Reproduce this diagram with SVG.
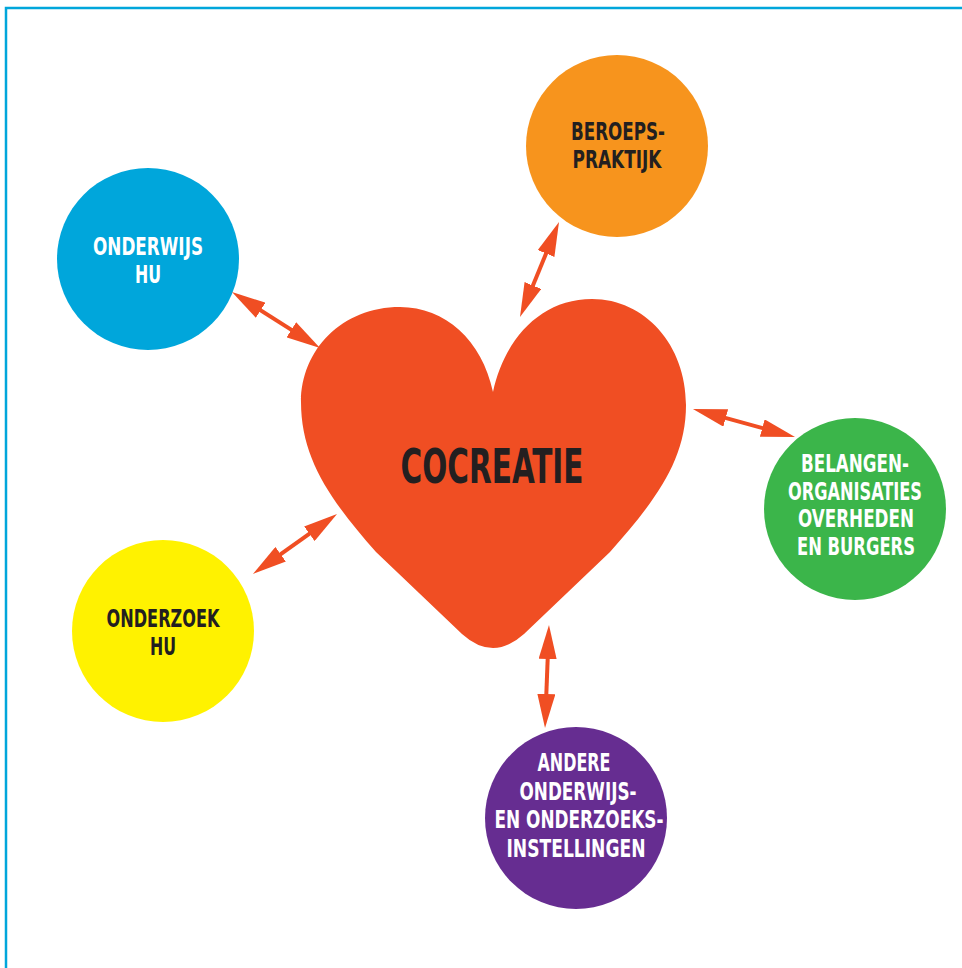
<svg xmlns="http://www.w3.org/2000/svg" width="962" height="968" viewBox="0 0 962 968">
<style>
.lbl{font-family:"Liberation Sans Narrow","DejaVu Sans Condensed","Liberation Sans",sans-serif;font-weight:bold;font-size:25px;text-anchor:middle}
.w{fill:#ffffff}
.d{fill:#231F20}
.con{stroke:#F04E23;stroke-width:4;fill:none;marker-start:url(#ah);marker-end:url(#ah)}
</style>
<defs>
<marker id="ah" markerUnits="userSpaceOnUse" viewBox="0 0 34 18" markerWidth="34" markerHeight="18" refX="24" refY="9" orient="auto-start-reverse">
<path d="M0,0 L34,9 L0,18 Z" fill="#F04E23"/>
</marker>
</defs>
<rect width="962" height="968" fill="#ffffff"/>
<path d="M6,968 V8 H962" fill="none" stroke="#00A6DB" stroke-width="2.5"/>

<g id="heart">
<path d="M493,392 C482,340 445,307 400,307 C342,307 301,350 301,402 C301,458 330,500 376,552 L462,634 Q493,662 524,634 L610,552 C656,500 686,460 686,405 C686,345 645,299 592,299 C540,299 504,340 493,392 Z" fill="#F04E23"/>
<text class="lbl d" x="492" y="483" style="font-size:48px" textLength="183" lengthAdjust="spacingAndGlyphs">COCREATIE</text>
</g>

<g id="onderwijs">
<circle cx="148" cy="259" r="91" fill="#00A6DB"/>
<text class="lbl w" x="148" y="255" textLength="110" lengthAdjust="spacingAndGlyphs">ONDERWIJS</text>
<text class="lbl w" x="148" y="283" textLength="26" lengthAdjust="spacingAndGlyphs">HU</text>
</g>

<g id="beroepspraktijk">
<circle cx="617" cy="146" r="91" fill="#F7941D"/>
<text class="lbl d" x="618" y="140" textLength="94" lengthAdjust="spacingAndGlyphs">BEROEPS-</text>
<text class="lbl d" x="617" y="168" textLength="89" lengthAdjust="spacingAndGlyphs">PRAKTIJK</text>
</g>

<g id="belangen">
<circle cx="855" cy="509" r="91" fill="#3BB54A"/>
<text class="lbl w" x="855" y="472" textLength="108" lengthAdjust="spacingAndGlyphs">BELANGEN-</text>
<text class="lbl w" x="855" y="500" textLength="134" lengthAdjust="spacingAndGlyphs">ORGANISATIES</text>
<text class="lbl w" x="856" y="527" textLength="116" lengthAdjust="spacingAndGlyphs">OVERHEDEN</text>
<text class="lbl w" x="856" y="555" textLength="118" lengthAdjust="spacingAndGlyphs">EN BURGERS</text>
</g>

<g id="onderzoek">
<circle cx="163" cy="631" r="91" fill="#FFF200"/>
<text class="lbl d" x="163" y="627" textLength="113" lengthAdjust="spacingAndGlyphs">ONDERZOEK</text>
<text class="lbl d" x="163" y="655" textLength="26" lengthAdjust="spacingAndGlyphs">HU</text>
</g>

<g id="andere">
<circle cx="576" cy="818" r="91" fill="#662D91"/>
<text class="lbl w" x="574" y="771" textLength="73" lengthAdjust="spacingAndGlyphs">ANDERE</text>
<text class="lbl w" x="578" y="800" textLength="117" lengthAdjust="spacingAndGlyphs">ONDERWIJS-</text>
<text class="lbl w" x="579" y="828" textLength="169" lengthAdjust="spacingAndGlyphs">EN ONDERZOEKS-</text>
<text class="lbl w" x="576" y="857" textLength="139" lengthAdjust="spacingAndGlyphs">INSTELLINGEN</text>
</g>

<g id="connectors">
<line class="con" x1="240.4" y1="297.4" x2="311.6" y2="342.6"/>
<line class="con" x1="555.2" y1="231.3" x2="523.8" y2="307.7"/>
<line class="con" x1="702.6" y1="411.6" x2="785.4" y2="434.4"/>
<line class="con" x1="261.1" y1="568.2" x2="328.9" y2="519.8"/>
<line class="con" x1="548.6" y1="635" x2="545.4" y2="718"/>
</g>
</svg>
